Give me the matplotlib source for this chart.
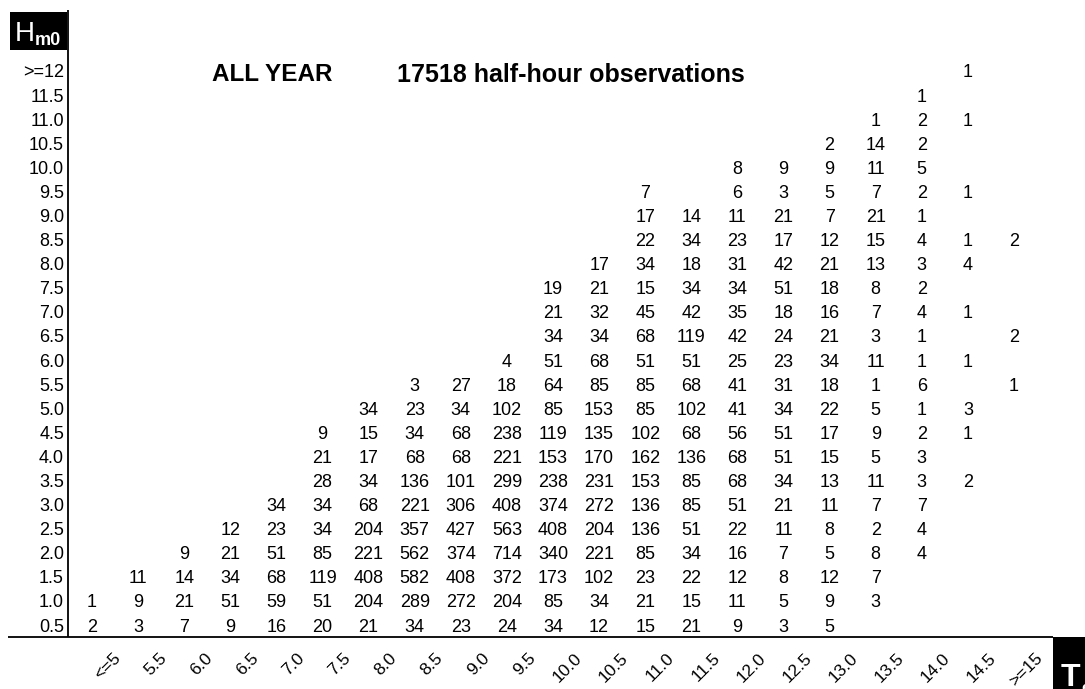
import matplotlib
matplotlib.use("Agg")
import matplotlib.pyplot as plt
from matplotlib.patches import Rectangle

plt.rcParams['font.family'] = ['Liberation Sans', 'DejaVu Sans']

te_labels = ["<=5", "5.5", "6.0", "6.5", "7.0", "7.5", "8.0", "8.5", "9.0", "9.5",
             "10.0", "10.5", "11.0", "11.5", "12.0", "12.5", "13.0", "13.5", "14.0",
             "14.5", ">=15"]
hm0_labels = ["0.5", "1.0", "1.5", "2.0", "2.5", "3.0", "3.5", "4.0", "4.5", "5.0",
              "5.5", "6.0", "6.5", "7.0", "7.5", "8.0", "8.5", "9.0", "9.5", "10.0",
              "10.5", "11.0", "11.5", ">=12"]

# counts per Hm0 row, one entry per Te column; None = empty cell
row_0_5 = [2, 3, 7, 9, 16, 20, 21, 34, 23, 24, 34, 12, 15, 21, 9, 3, 5]
row_1_0 = [1, 9, 21, 51, 59, 51, 204, 289, 272, 204, 85, 34, 21, 15, 11, 5, 9, 3]
row_1_5 = [None, 11, 14, 34, 68, 119, 408, 582, 408, 372, 173, 102, 23, 22, 12, 8, 12, 7]
row_2_0 = [None, None, 9, 21, 51, 85, 221, 562, 374, 714, 340, 221, 85, 34, 16, 7, 5, 8, 4]
row_2_5 = [None, None, None, 12, 23, 34, 204, 357, 427, 563, 408, 204, 136, 51, 22, 11, 8, 2, 4]
row_3_0 = [None, None, None, None, 34, 34, 68, 221, 306, 408, 374, 272, 136, 85, 51, 21, 11, 7, 7]
row_3_5 = [None] * 5 + [28, 34, 136, 101, 299, 238, 231, 153, 85, 68, 34, 13, 11, 3, 2]
row_4_0 = [None] * 5 + [21, 17, 68, 68, 221, 153, 170, 162, 136, 68, 51, 15, 5, 3]
row_4_5 = [None] * 5 + [9, 15, 34, 68, 238, 119, 135, 102, 68, 56, 51, 17, 9, 2, 1]
row_5_0 = [None] * 6 + [34, 23, 34, 102, 85, 153, 85, 102, 41, 34, 22, 5, 1, 3]
row_5_5 = [None] * 7 + [3, 27, 18, 64, 85, 85, 68, 41, 31, 18, 1, 6, None, 1]
row_6_0 = [None] * 9 + [4, 51, 68, 51, 51, 25, 23, 34, 11, 1, 1]
row_6_5 = [None] * 10 + [34, 34, 68, 119, 42, 24, 21, 3, 1, None, 2]
row_7_0 = [None] * 10 + [21, 32, 45, 42, 35, 18, 16, 7, 4, 1]
row_7_5 = [None] * 10 + [19, 21, 15, 34, 34, 51, 18, 8, 2]
row_8_0 = [None] * 11 + [17, 34, 18, 31, 42, 21, 13, 3, 4]
row_8_5 = [None] * 12 + [22, 34, 23, 17, 12, 15, 4, 1, 2]
row_9_0 = [None] * 12 + [17, 14, 11, 21, 7, 21, 1]
row_9_5 = [None] * 12 + [7, None, 6, 3, 5, 7, 2, 1]
row_10_0 = [None] * 14 + [8, 9, 9, 11, 5]
row_10_5 = [None] * 16 + [2, 14, 2]
row_11_0 = [None] * 17 + [1, 2, 1]
row_11_5 = [None] * 18 + [1]
row_12 = [None] * 19 + [1]

rows = [row_0_5, row_1_0, row_1_5, row_2_0, row_2_5, row_3_0, row_3_5, row_4_0,
        row_4_5, row_5_0, row_5_5, row_6_0, row_6_5, row_7_0, row_7_5, row_8_0,
        row_8_5, row_9_0, row_9_5, row_10_0, row_10_5, row_11_0, row_11_5, row_12]

title_left = "ALL YEAR"
title_right = "17518 half-hour observations"

W, H = 1085, 689
fig = plt.figure(figsize=(W / 100, H / 100), dpi=100)
ax = fig.add_axes([0, 0, 1, 1])
ax.set_axis_off()

# pixel mapping: column i at x = 92 + 46.1 i ; row r at y(top) = 625 - 24.09 r
cx0, cdx = 92.0, 46.1
ry0, rdy = 625.0, 24.09
ax.set_xlim(-cx0 / cdx, (W - cx0) / cdx)
ax.set_ylim((ry0 - H) / rdy, ry0 / rdy)

def px2x(px):
    return (px - cx0) / cdx

def py2y(py):
    return (ry0 - py) / rdy

fs = 13
for r, vals in enumerate(rows):
    for c, v in enumerate(vals):
        if v is None:
            continue
        ax.text(c, r, str(v), ha='center', va='center_baseline', fontsize=fs, color='black')

# row labels
for r, lab in enumerate(hm0_labels):
    ax.text(px2x(64), r, lab, ha='right', va='center_baseline', fontsize=fs)

# column labels rotated
for c, lab in enumerate(te_labels):
    ax.text(c + px2x(118) - px2x(92), py2y(656), lab, ha='right', va='center',
            rotation=45, rotation_mode='anchor', fontsize=fs - 0.5)

# axes lines
ax.plot([px2x(68), px2x(68)], [py2y(10), py2y(637)], color='black', lw=1.3,
        solid_capstyle='butt')
ax.plot([px2x(8), px2x(1053)], [py2y(637), py2y(637)], color='black', lw=1.3,
        solid_capstyle='butt')

# titles
ax.text(px2x(212), py2y(72), title_left, ha='left', va='center_baseline',
        fontsize=17.5, fontweight='bold')
ax.text(px2x(397), py2y(72), title_right, ha='left', va='center_baseline',
        fontsize=18, fontweight='bold')

# Hm0 box
ax.add_patch(Rectangle((px2x(10), py2y(50)), px2x(67) - px2x(10), py2y(12) - py2y(50),
                       facecolor='black', edgecolor='none'))
ax.text(px2x(15), py2y(41), "H", color='white', fontsize=20, ha='left', va='baseline')
ax.text(px2x(35), py2y(45), "m0", color='white', fontsize=13, fontweight='bold',
        ha='left', va='baseline')

# Te box
ax.add_patch(Rectangle((px2x(1053), py2y(H)), px2x(W + 5) - px2x(1053), py2y(637) - py2y(H),
                       facecolor='black', edgecolor='none'))
ax.text(px2x(1061), py2y(686), "T", color='white', fontsize=23, fontweight='bold',
        ha='left', va='baseline')
ax.text(px2x(1081), py2y(692), "e", color='white', fontsize=11, fontweight='bold',
        ha='left', va='baseline')

fig.savefig("out.png", dpi=100, facecolor='white')
